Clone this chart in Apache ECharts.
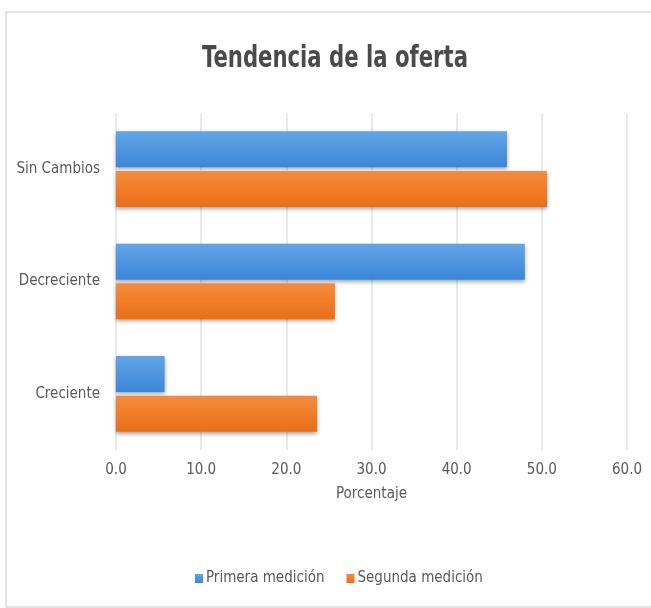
<!DOCTYPE html>
<html>
<head>
<meta charset="utf-8">
<script src="https://cdn.jsdelivr.net/npm/echarts@6/dist/echarts.min.js"></script>
<style>
  html, body { margin: 0; padding: 0; background: #ffffff; }
  #chart { width: 651px; height: 608px; }
</style>
</head>
<body>
<div id="chart"></div>
<script>
// Tendencia de la oferta: porcentaje por categoría en dos mediciones
const categories = ['Sin Cambios', 'Decreciente', 'Creciente'];
const primeraMedicion = [45.9, 48.0, 5.7];
const segundaMedicion = [50.6, 25.7, 23.6];
const seriesNames = ['Primera medición', 'Segunda medición'];
const chartTitle = 'Tendencia de la oferta';
const tickMin = 0, tickMax = 60, tickStep = 10;

const FONT = "'Liberation Sans Narrow', 'DejaVu Sans Condensed', 'Open Sans', sans-serif";
const TEXT = '#595959';

function grad(top, bottom) {
  return new echarts.graphic.LinearGradient(0, 0, 0, 1, [
    { offset: 0, color: top },
    { offset: 1, color: bottom }
  ]);
}

const chart = echarts.init(document.getElementById('chart'), null, { renderer: 'canvas' });

chart.setOption({
  backgroundColor: '#ffffff',
  animation: false,
  graphic: [
    {
      type: 'rect',
      shape: { x: 6, y: 12, width: 650, height: 595 },
      style: { fill: 'none', stroke: '#d9d9d9', lineWidth: 1.5 },
      z: -1
    },
    {
      // condensed bold heading
      type: 'text',
      x: 335,
      y: 59,
      scaleX: 0.76,
      style: {
        text: chartTitle,
        fontFamily: FONT,
        fontSize: 31,
        fontWeight: 'bold',
        fill: '#4a4a4a',
        textAlign: 'center',
        textVerticalAlign: 'middle'
      }
    }
  ],
  legend: {
    data: seriesNames,
    bottom: 17,
    left: 190,
    itemWidth: 8,
    itemHeight: 9,
    itemGap: 22,
    icon: 'rect',
    textStyle: { fontFamily: FONT, fontSize: 15, color: TEXT, padding: [0, 0, 0, -2] }
  },
  grid: { left: 116, right: 24, top: 113, height: 337, containLabel: false },
  xAxis: {
    type: 'value',
    min: tickMin,
    max: tickMax,
    interval: tickStep,
    name: 'Porcentaje',
    nameLocation: 'middle',
    nameGap: 37,
    nameTextStyle: { fontFamily: FONT, fontSize: 15, color: TEXT },
    axisLine: { show: false },
    axisTick: { show: false },
    axisLabel: {
      fontFamily: FONT, fontSize: 15, color: TEXT, margin: 13,
      formatter: v => v.toFixed(1)
    },
    splitLine: { show: true, lineStyle: { color: '#e3e3e3', width: 1.5 } }
  },
  yAxis: {
    type: 'category',
    data: categories,
    inverse: true,
    axisLine: { show: false },
    axisTick: { show: false },
    axisLabel: { fontFamily: FONT, fontSize: 15, color: TEXT, margin: 16 }
  },
  series: [
    {
      name: seriesNames[0],
      type: 'bar',
      data: primeraMedicion,
      barWidth: 36,
      barGap: '10%',
      itemStyle: {
        color: grad('#62a5e6', '#3b86d8'),
        shadowColor: 'rgba(0,0,0,0.35)',
        shadowBlur: 4,
        shadowOffsetY: 2
      }
    },
    {
      name: seriesNames[1],
      type: 'bar',
      data: segundaMedicion,
      barWidth: 36,
      barGap: '10%',
      itemStyle: {
        color: grad('#f68b3d', '#e86f18'),
        shadowColor: 'rgba(0,0,0,0.35)',
        shadowBlur: 4,
        shadowOffsetY: 2
      }
    }
  ]
});
</script>
</body>
</html>
